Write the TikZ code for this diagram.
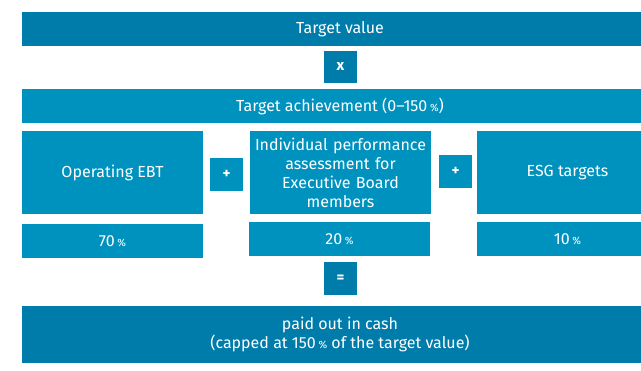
\documentclass[tikz,border=0pt]{standalone}
\usepackage{fontspec}
\setmainfont{Fira Sans}
\definecolor{darkblue}{HTML}{007CAB}
\definecolor{lightblue}{HTML}{0092BE}
\newcommand{\pc}{\,{\fontsize{10.5}{10}\selectfont\%}}
\begin{document}
\begin{tikzpicture}[x=1pt,y=-1pt,
  blk/.style={anchor=north west,inner sep=0pt,outer sep=0pt,text=white,align=center,
    font=\fontsize{16}{19}\selectfont},
  dk/.style={blk,fill=darkblue},
  lt/.style={blk,fill=lightblue},
  op/.style={font=\fontsize{15}{19}\selectfont\bfseries}]
\useasboundingbox (0,0) rectangle (641,371);
\clip (0,0) rectangle (641,371);
\node[dk,minimum width=636pt,minimum height=34pt] (tv) at (22,12) {Target value};
\node[dk,op,minimum width=33pt,minimum height=32pt] (x) at (324,51) {x};
\node[lt,minimum width=636pt,minimum height=34pt] (ta) at (22,89) {Target achievement (0--150\pc)};
\node[lt,minimum width=181pt,minimum height=83pt] (ebt) at (22,131) {Operating EBT};
\node[lt,op,minimum width=33pt,minimum height=33pt] (p1) at (210,158) {+};
\node[lt,minimum width=181pt,minimum height=83pt,text width=178pt] (ind) at (250,131) {Individual performance\\assessment for\\Executive Board\\members};
\node[lt,op,minimum width=33pt,minimum height=33pt] (p2) at (439,155) {+};
\node[lt,minimum width=181pt,minimum height=83pt] (esg) at (477,131) {ESG targets};
\node[lt,minimum width=181pt,minimum height=34pt] (r70) at (22,224) {70\pc};
\node[lt,minimum width=181pt,minimum height=34pt] (r20) at (249,222) {20\pc};
\node[lt,minimum width=181pt,minimum height=34pt] (r10) at (477,222) {10\pc};
\node[dk,op,minimum width=33pt,minimum height=33pt] (eq) at (324,262) {=};
\node[dk,minimum width=636pt,minimum height=57pt] (out) at (22,306) {paid out in cash\\(capped at 150\pc{} of the target value)};
\end{tikzpicture}
\end{document}
